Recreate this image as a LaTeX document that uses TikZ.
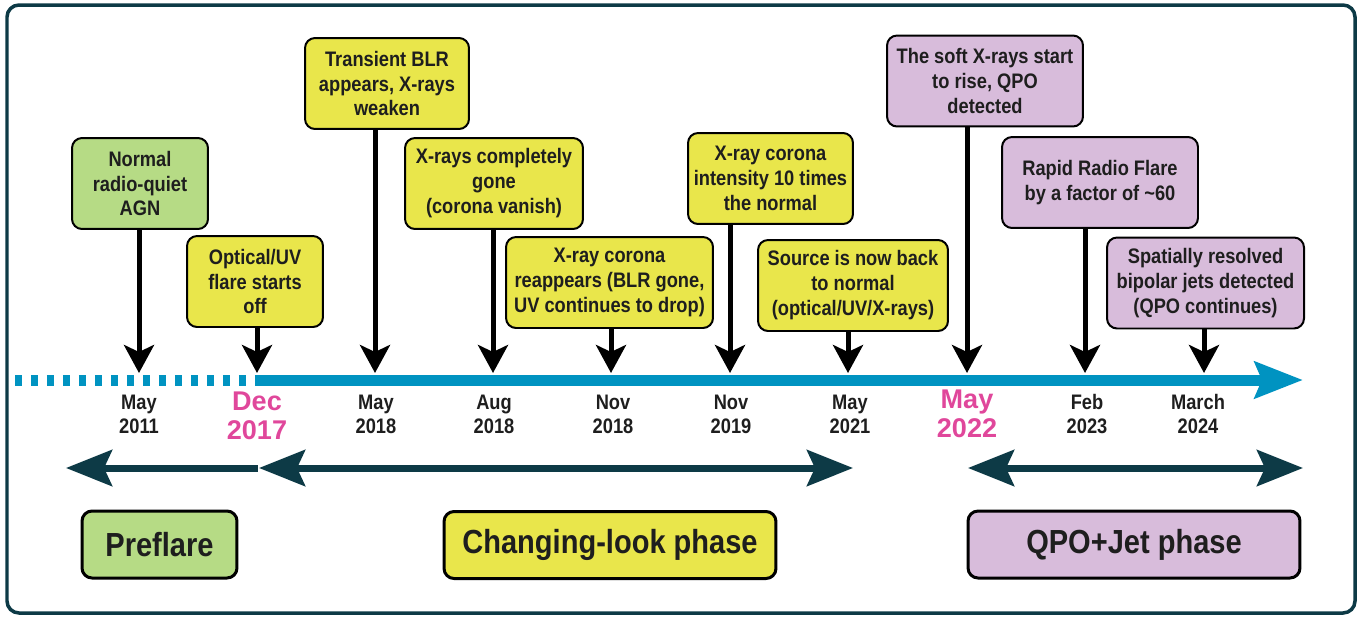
\documentclass[tikz,border=0pt]{standalone}
\usepackage{fontspec}
\setmainfont{Liberation Sans}
\newfontfamily\narrowsf{Liberation Sans}[FakeStretch=0.87]
\usepackage{tikz}
\usetikzlibrary{arrows.meta, positioning}
\usepackage{xcolor}
\definecolor{agngreen}{HTML}{B6DB85}
\definecolor{clyellow}{HTML}{E9E64B}
\definecolor{qpopurple}{HTML}{D8BCDB}
\definecolor{tlblue}{HTML}{0093C1}
\definecolor{darkteal}{HTML}{0D3A46}
\definecolor{keypink}{HTML}{E0479B}
\definecolor{textdark}{HTML}{1E1E1E}

\begin{document}
\begin{tikzpicture}[
      x=0.02cm, y=-0.02cm,
      evbox/.style={draw=black, line width=0.04cm, rounded corners=0.2cm,
        align=center, minimum height=1.82cm, inner sep=2pt, text=textdark,
        font=\narrowsf\bfseries\fontsize{11.95pt}{14.2pt}\selectfont},
      phasebox/.style={draw=black, line width=0.06cm, rounded corners=0.2cm,
        minimum height=1.34cm, text=textdark,
        font=\narrowsf\bfseries\fontsize{19pt}{21pt}\selectfont},
      datelbl/.style={align=center, text=textdark,
        font=\narrowsf\bfseries\fontsize{11.95pt}{13.7pt}\selectfont},
      keydate/.style={align=center, text=keypink,
        font=\bfseries\fontsize{15.4pt}{16.8pt}\selectfont},
      arr/.style={-{Stealth[length=0.56cm, width=0.6cm, inset=0.14cm]}, line width=0.1cm},
      ptip/.tip={Stealth[length=0.92cm, width=0.72cm, inset=0.16cm]},
      phasearr/.style={draw=darkteal, line width=0.14cm},
      tline/.style={draw=tlblue, line width=0.22cm}
    ]
    \useasboundingbox (0,0) rectangle (1358,616);
    \draw[darkteal, line width=0.07cm, rounded corners=0.24cm] (7,5) rectangle (1355,613);

    % timeline
    \coordinate (tlL) at (15,380);
    \coordinate (tlM) at (257,380);
    \coordinate (tlR) at (1303,380);
    \draw[tline, dash pattern=on 0.14cm off 0.18cm] (tlL) -- (tlM);
    \draw[tline, -{Stealth[length=0.96cm, width=0.72cm, inset=0.14cm]}] (tlM) -- (tlR);

    \coordinate (may11) at (139,373);
    \coordinate (dec17) at (257,373);
    \coordinate (may18) at (375,373);
    \coordinate (aug18) at (493,373);
    \coordinate (nov18) at (611,373);
    \coordinate (nov19) at (730,373);
    \coordinate (may21) at (848,373);
    \coordinate (may22) at (967,373);
    \coordinate (feb23) at (1085,373);
    \coordinate (mar24) at (1204,373);

    % events
    \node[evbox, fill=agngreen, minimum width=2.72cm] (normal) at (140,183.5)
      {Normal\\radio-quiet\\AGN};
    \node[evbox, fill=clyellow, minimum width=2.72cm] (optuv) at (255,281.5)
      {Optical/UV\\flare starts\\off};
    \node[evbox, fill=clyellow, minimum width=3.28cm] (blr) at (387,83.5)
      {Transient BLR\\appears, X-rays\\weaken};
    \node[evbox, fill=clyellow, minimum width=3.56cm] (xgone) at (494,183.5)
      {X-rays completely\\gone\\(corona vanish)};
    \node[evbox, fill=clyellow, minimum width=4.14cm] (reapp) at (609.5,282.5)
      {X-ray corona\\reappears (BLR gone,\\UV continues to drop)};
    \node[evbox, fill=clyellow, minimum width=3.30cm] (tenx) at (770.5,178.5)
      {X-ray corona\\intensity 10 times\\the normal};
    \node[evbox, fill=clyellow, minimum width=3.80cm] (backnorm) at (853,285.5)
      {Source is now back\\to normal\\(optical/UV/X-rays)};
    \node[evbox, fill=qpopurple, minimum width=3.92cm] (softx) at (985,81)
      {The soft X-rays start\\to rise, QPO\\detected};
    \node[evbox, fill=qpopurple, minimum width=3.92cm] (radio) at (1100,182.5)
      {Rapid Radio Flare\\by a factor of \textasciitilde60};
    \node[evbox, fill=qpopurple, minimum width=3.94cm] (jets) at (1205.5,283)
      {Spatially resolved\\bipolar jets detected\\(QPO continues)};

    \draw[arr] (may11 |- normal.south) -- (may11);
    \draw[arr] (dec17 |- optuv.south) -- (dec17);
    \draw[arr] (may18 |- blr.south) -- (may18);
    \draw[arr] (aug18 |- xgone.south) -- (aug18);
    \draw[arr] (nov18 |- reapp.south) -- (nov18);
    \draw[arr] (nov19 |- tenx.south) -- (nov19);
    \draw[arr] (may21 |- backnorm.south) -- (may21);
    \draw[arr] (may22 |- softx.south) -- (may22);
    \draw[arr] (feb23 |- radio.south) -- (feb23);
    \draw[arr] (mar24 |- jets.south) -- (mar24);

    % dates
    \node[datelbl] (lmay11) at (139,414) {May\\2011};
    \node[keydate] (ldec17) at (257,416) {Dec\\2017};
    \node[datelbl] (lmay18) at (376,414) {May\\2018};
    \node[datelbl] (laug18) at (494,414) {Aug\\2018};
    \node[datelbl] (lnov18) at (613,414) {Nov\\2018};
    \node[datelbl] (lnov19) at (731,414) {Nov\\2019};
    \node[datelbl] (lmay21) at (850,414) {May\\2021};
    \node[keydate] (lmay22) at (967,414) {May\\2022};
    \node[datelbl] (lfeb23) at (1087,414) {Feb\\2023};
    \node[datelbl] (lmar24) at (1198,414) {March\\2024};

    % phases
    \coordinate (pa) at (66,468);
    \coordinate (pb) at (258,468);
    \coordinate (pc) at (259,468);
    \coordinate (pd) at (853,468);
    \coordinate (pe) at (968,468);
    \coordinate (pf) at (1303,468);
    \draw[phasearr, ptip-] (pa) -- (pb);
    \draw[phasearr, ptip-ptip] (pc) -- (pd);
    \draw[phasearr, ptip-ptip] (pe) -- (pf);

    \node[phasebox, fill=agngreen, minimum width=3.10cm] (preflare) at (159.5,544.5) {Preflare};
    \node[phasebox, fill=clyellow, minimum width=6.64cm] (clphase) at (610,545) {Changing-look phase};
    \node[phasebox, fill=qpopurple, minimum width=6.64cm] (qpophase) at (1134,544.5) {QPO+Jet phase};
  \end{tikzpicture}
\end{document}
